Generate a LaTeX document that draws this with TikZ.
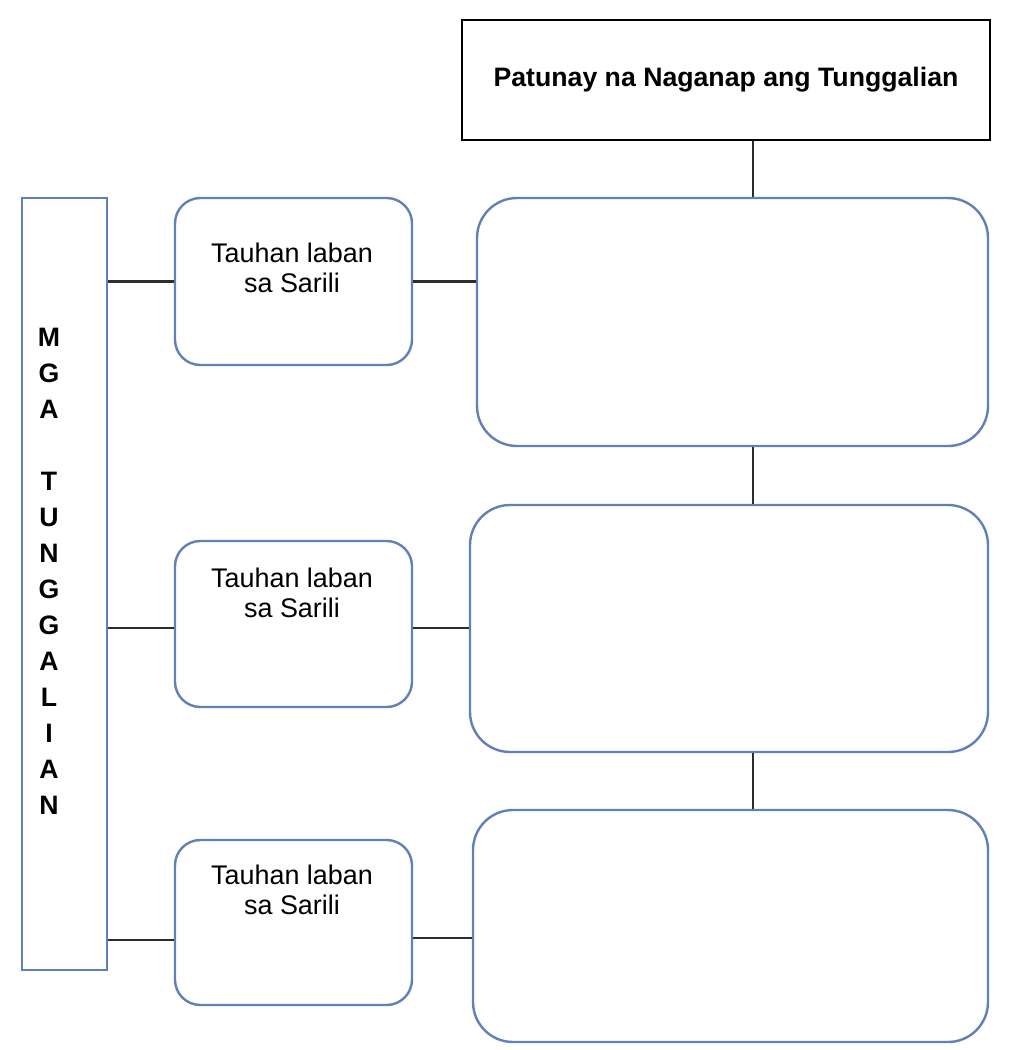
\documentclass[tikz,border=0pt]{standalone}
\usepackage{fontspec}
\setmainfont{Liberation Sans}
\definecolor{boxblue}{RGB}{98,128,184}
\definecolor{linegray}{RGB}{45,45,45}
\begin{document}
\begin{tikzpicture}[x=0.75pt,y=-0.75pt,
  topbox/.style={draw=black,line width=1.4pt,fill=white,inner sep=0pt,
    font=\fontsize{20}{24}\selectfont\bfseries},
  leftbox/.style={draw=boxblue,line width=1.8pt,fill=white,inner sep=0pt},
  smallbox/.style={draw=boxblue,line width=1.8pt,fill=white,rounded corners=19pt,inner sep=0pt},
  bigbox/.style={draw=boxblue,line width=1.8pt,fill=white,rounded corners=30pt,inner sep=0pt},
  smalltext/.style={align=center,inner sep=0pt,font=\fontsize{20.2}{22.5}\selectfont},
  lefttext/.style={align=center,inner sep=0pt,anchor=north,font=\fontsize{20}{27}\selectfont\bfseries},
  conn/.style={draw=linegray,line width=1.6pt}]
\useasboundingbox (0,0) rectangle (1024,1050);
% boxes
\node[topbox,minimum width=396pt,minimum height=90pt] (T) at (726,80) {Patunay na Naganap ang Tunggalian};
\node[leftbox,minimum width=63.75pt,minimum height=579pt] (L) at (64.5,584) {};
\node[lefttext] (LT) at (49,328) {M\\G\\A\\[27pt]T\\U\\N\\G\\G\\A\\L\\I\\A\\N};
\node[smallbox,minimum width=177.75pt,minimum height=125.25pt] (S1) at (293.5,281.5) {};
\node[smallbox,minimum width=177.75pt,minimum height=124.5pt] (S2) at (293.5,624) {};
\node[smallbox,minimum width=177.75pt,minimum height=123.75pt] (S3) at (293.5,922.5) {};
\node[smalltext] (S1t) at (292,268) {Tauhan laban\\sa Sarili};
\node[smalltext] (S2t) at (292,593) {Tauhan laban\\sa Sarili};
\node[smalltext] (S3t) at (292,890) {Tauhan laban\\sa Sarili};
\node[bigbox,minimum width=383.25pt,minimum height=186pt] (A) at (732.5,322) {};
\node[bigbox,minimum width=388.5pt,minimum height=185.25pt] (B) at (729,628.5) {};
\node[bigbox,minimum width=386.25pt,minimum height=174pt] (C) at (730.5,926) {};
% connectors left
\draw[conn] (L.east |- S1.west) -- (S1.west);
\draw[conn] (L.east |- 0,628) -- (S2.west |- 0,628);
\draw[conn] (L.east |- 0,940) -- (S3.west |- 0,940);
% connectors right
\draw[conn] (S1.east) -- (S1.east -| A.west);
\draw[conn] (S2.east |- 0,628) -- (B.west |- 0,628);
\draw[conn] (S3.east |- 0,938) -- (C.west |- 0,938);
% vertical connectors
\draw[conn] (T.south -| 753,0) -- (A.north -| 753,0);
\draw[conn] (A.south -| 753,0) -- (B.north -| 753,0);
\draw[conn] (B.south -| 753,0) -- (C.north -| 753,0);
\end{tikzpicture}
\end{document}
